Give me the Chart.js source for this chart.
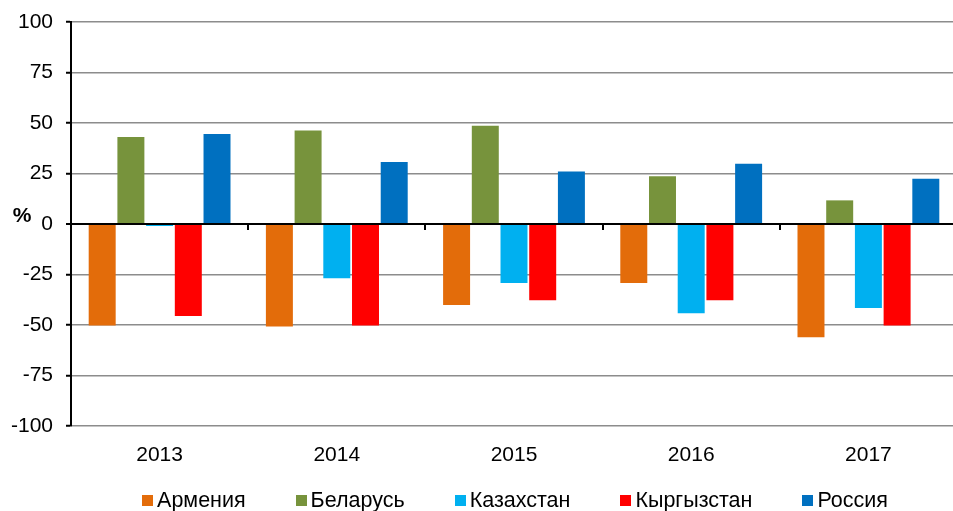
<!DOCTYPE html>
<html>
<head>
<meta charset="utf-8">
<script src="https://cdn.jsdelivr.net/npm/chart.js@4.4.1/dist/chart.umd.min.js"></script>
<style>
  html, body { margin: 0; padding: 0; background: #ffffff; overflow: hidden; }
  #wrap { width: 953px; height: 511px; position: relative; overflow: hidden; }
  #c { position: absolute; left: 0; top: 0; }
</style>
</head>
<body>
<div id="wrap"><canvas id="c" width="958" height="511"></canvas></div>
<script>
const categories = ['2013', '2014', '2015', '2016', '2017'];
const seriesNames = ['Армения', 'Беларусь', 'Казахстан', 'Кыргызстан', 'Россия'];
const armenia    = [-50.2, -50.8, -40.1, -29.2, -56.1];
const belarus    = [43.1, 46.3, 48.7, 23.6, 11.7];
const kazakhstan = [-1.0, -26.9, -29.2, -44.2, -41.6];
const kyrgyzstan = [-45.5, -50.2, -37.8, -37.8, -50.2];
const russia     = [44.5, 30.7, 26.0, 29.8, 22.4];
const yTicks = [-100, -75, -50, -25, 0, 25, 50, 75, 100];
const yUnit = '%';

const colors = ['#E36C0A', '#77933C', '#00B0F0', '#FF0000', '#0070C0'];
const FONT = "'Liberation Sans', Arial, Helvetica, sans-serif";
const values = [armenia, belarus, kazakhstan, kyrgyzstan, russia];

const extras = {
  id: 'extras',
  afterDatasetsDraw(chart) {
    const ctx = chart.ctx;
    const x = chart.scales.x, y = chart.scales.y;
    const y0 = y.getPixelForValue(0);
    ctx.save();
    ctx.strokeStyle = '#000';
    ctx.lineWidth = 2;
    ctx.beginPath();
    ctx.moveTo(chart.chartArea.left, y0);
    ctx.lineTo(chart.chartArea.right, y0);
    ctx.stroke();
    for (let i = 0; i < categories.length - 1; i++) {
      const bx = (x.getPixelForTick(i) + x.getPixelForTick(i + 1)) / 2;
      ctx.beginPath();
      ctx.moveTo(Math.round(bx), y0);
      ctx.lineTo(Math.round(bx), y0 + 6);
      ctx.stroke();
    }
    ctx.restore();
  },
  afterDraw(chart) {
    const ctx = chart.ctx;
    const y = chart.scales.y;
    ctx.save();
    ctx.font = 'bold 21px ' + FONT;
    ctx.fillStyle = '#000';
    ctx.textAlign = 'center';
    ctx.textBaseline = 'middle';
    ctx.fillText(yUnit, 22, y.getPixelForValue(0) - 8);
    ctx.font = '21.5px ' + FONT;
    ctx.textAlign = 'left';
    const box = 11, gapText = 4, gapItem = 50;
    const ds = chart.data.datasets;
    const widths = ds.map(d => box + gapText + ctx.measureText(d.label).width);
    const total = widths.reduce((a, b) => a + b, 0) + gapItem * (ds.length - 1);
    let cx = 515 - total / 2;
    const cy = 500;
    ds.forEach((d, i) => {
      ctx.fillStyle = d.backgroundColor;
      ctx.fillRect(Math.round(cx), cy - 5, box, box);
      ctx.fillStyle = '#000';
      ctx.fillText(d.label, cx + box + gapText, cy + 1);
      cx += widths[i] + gapItem;
    });
    ctx.restore();
  }
};

new Chart(document.getElementById('c'), {
  type: 'bar',
  data: {
    labels: categories,
    datasets: seriesNames.map((n, i) => ({
      label: n,
      data: values[i],
      backgroundColor: colors[i],
      borderWidth: 0,
      categoryPercentage: 0.81,
      barPercentage: 0.94
    }))
  },
  plugins: [extras],
  options: {
    responsive: false,
    animation: false,
    devicePixelRatio: 1,
    layout: { padding: { left: 0, right: 1, top: 22, bottom: 45 } },
    plugins: {
      legend: { display: false },
      tooltip: { enabled: false }
    },
    scales: {
      x: {
        grid: { display: false, drawTicks: false },
        border: { display: false },
        ticks: { color: '#000', font: { family: FONT, size: 21 }, padding: 17 },
        afterFit(s) { s.height = 40; }
      },
      y: {
        min: -100,
        max: 100,
        afterBuildTicks(s) { s.ticks = yTicks.map(v => ({ value: v })); },
        grid: {
          color: ctx => ctx.tick && ctx.tick.value === 0 ? '#000' : '#8c8c8c',
          lineWidth: ctx => ctx.tick && ctx.tick.value === 0 ? 2 : 1.5,
          tickColor: '#000',
          tickLength: 5,
          tickWidth: 2
        },
        border: { display: true, color: '#000', width: 2 },
        ticks: { color: '#000', font: { family: FONT, size: 21 }, padding: 13 },
        afterFit(s) { s.width = 71; s.paddingTop = 0; s.paddingBottom = 0; }
      }
    }
  }
});
</script>
</body>
</html>
